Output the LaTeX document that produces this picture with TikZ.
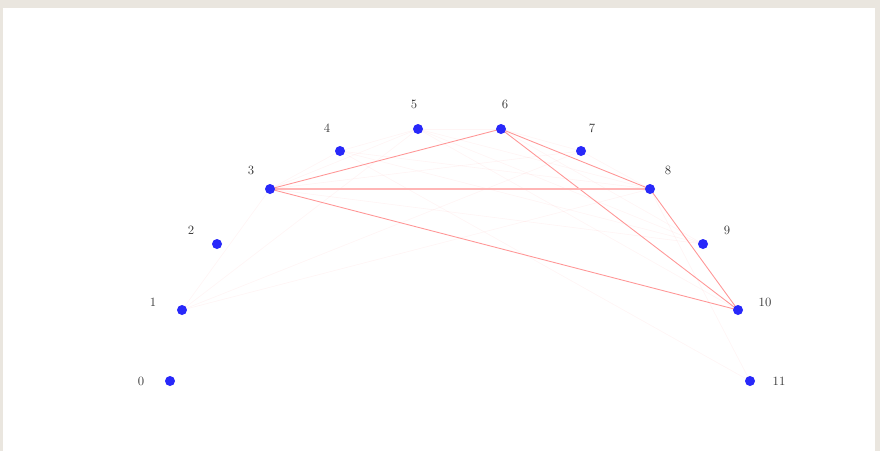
\documentclass[tikz,border=0pt]{standalone}
\usetikzlibrary{positioning}
\definecolor{paper}{RGB}{234,230,223}
\definecolor{dotblue}{RGB}{40,40,250}
\definecolor{edgered}{RGB}{255,150,150}
\definecolor{labgray}{RGB}{60,60,60}
\tikzset{
  vtx/.style={circle,fill=dotblue,inner sep=0pt,minimum size=7.5pt},
  lab/.style={text=labgray,font=\fontsize{9.5}{10}\selectfont,inner sep=0pt},
  strong/.style={draw=edgered,line width=0.65pt},
  faint/.style={draw=red,line width=0.5pt,opacity=0.04}
}
\begin{document}
\begin{tikzpicture}[x=0.75pt,y=-0.75pt]
\useasboundingbox (0,0) rectangle (880,451);
\fill[paper] (0,0) rectangle (880,451);
\fill[white] (3,8) rectangle (875,451);
% vertices
\coordinate (c0) at (170,381);
\coordinate (c1) at (182,310);
\coordinate (c2) at (217,244);
\coordinate (c3) at (270,189);
\coordinate (c4) at (340,151);
\coordinate (c5) at (418,129);
\coordinate (c6) at (501,129);
\coordinate (c7) at (581,151);
\coordinate (c8) at (650,189);
\coordinate (c9) at (703,244);
\coordinate (c10) at (738,310);
\coordinate (c11) at (750,381);
% faint edges
\foreach \a/\b in {1/3,1/5,1/7,1/8,3/4,4/5,5/6,3/5,3/9,4/9,5/9,6/9,7/8,6/7,4/8,4/11,8/11,5/10,5/8,3/7}
  \draw[faint] (c\a) -- (c\b);
% strong edges
\foreach \a/\b in {3/6,3/10,6/8,6/10,8/10}
  \draw[strong] (c\a) -- (c\b);
\draw[strong,line width=1pt,draw=edgered!70!white] (c3) -- (c8);
% nodes
\foreach \i in {0,...,11}
  \node[vtx] (n\i) at (c\i) {};
% labels
\node[lab] (l0) at (141,381) {0};
\node[lab] (l1) at (153,302) {1};
\node[lab] (l2) at (191,230) {2};
\node[lab] (l3) at (251,170) {3};
\node[lab] (l4) at (327,128) {4};
\node[lab] (l5) at (414,104) {5};
\node[lab] (l6) at (505,104) {6};
\node[lab] (l7) at (592,128) {7};
\node[lab] (l8) at (668,170) {8};
\node[lab] (l9) at (727,230) {9};
\node[lab] (l10) at (765,302) {10};
\node[lab] (l11) at (779,381) {11};
\end{tikzpicture}
\end{document}
